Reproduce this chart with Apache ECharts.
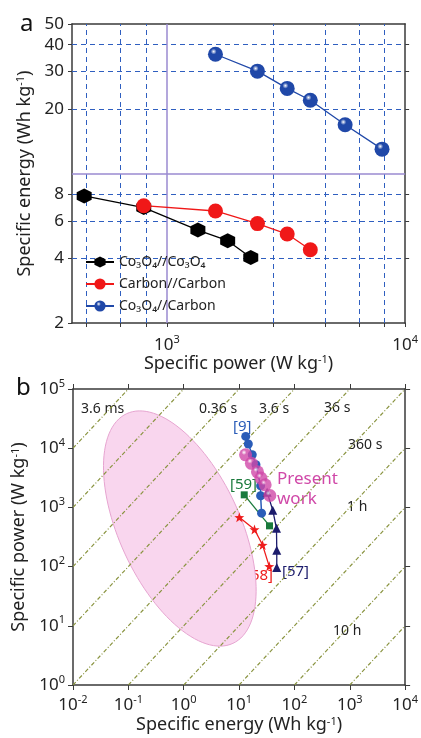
<!DOCTYPE html>
<html>
<head>
<meta charset="utf-8">
<script src="https://cdn.jsdelivr.net/npm/echarts@6/dist/echarts.min.js"></script>
<style>
html, body { margin: 0; padding: 0; background: #fff; }
#main { width: 421px; height: 738px; }
</style>
</head>
<body>
<div id="main"></div>
<script>
// ---- panel a : specific energy vs specific power ----
var cocoPower = [450, 800, 1350, 1800, 2250];
var cocoEnergy = [7.85, 6.93, 5.44, 4.85, 4.05];
var ccPower = [800, 1600, 2400, 3200, 4000];
var ccEnergy = [7.07, 6.68, 5.83, 5.21, 4.40];
var cocPower = [1600, 2400, 3200, 4000, 5600, 8000];
var cocEnergy = [36.1, 30.1, 25.0, 22.0, 16.9, 13.0];

var powerTicks = [460, 640, 820, 1000, 2800, 4600, 6400, 8200, 10000];
var powerLabels = [1000, 10000];
var powerGrid = [460, 640, 820, 2800, 4600, 6400, 8200];
var energyTicks = [2, 4, 6, 8, 20, 30, 40, 50];
var energyGrid = [4, 6, 8, 20, 30, 40];

// ---- panel b : Ragone plot ----
var ref9Energy = [13.2, 14.7, 17.3, 20.2, 24.5, 24.5, 25.5];
var ref9Power = [15800, 11750, 7740, 5250, 2320, 1570, 800];
var workEnergy = [13.1, 16.7, 21.5, 24.8, 29.6, 36.0];
var workPower = [7740, 5560, 3990, 3130, 2410, 1590];
var ref59Energy = [12.4, 35.5];
var ref59Power = [1630, 488];
var ref58Energy = [10.1, 19.0, 26.6, 35.1];
var ref58Power = [680, 424, 231, 101];
var ref57Energy = [32.1, 40.6, 47.4, 48.0, 48.0];
var ref57Power = [1800, 899, 443, 188, 97];
// discharge time lines, hours (E / P)
var dischargeHours = [1e-6, 1e-5, 1e-4, 1e-3, 1e-2, 1e-1, 1, 10, 100, 1000];
// supercapacitor region: centre (Wh/kg, W/kg) and half axes in decades
var capCenter = [0.85, 440];
var capAxisA = [0.96, -1.94];
var capAxisB = [-0.99, -0.43];

var FONT = 'Noto Sans';
var eMin = 0.01, eMax = 10000, pMin = 1, pMax = 100000;

function pairs(xs, ys) {
    return xs.map(function (x, i) { return [x, ys[i]]; });
}
function powLabel(v) {
    return '{n|10}{s|' + Math.round(Math.log10(v)) + '}';
}
function timeLine(t) {
    var e0 = Math.max(eMin, pMin * t), e1 = Math.min(eMax, pMax * t);
    return [[e0, e0 / t], [e1, e1 / t]];
}
function sphere(c) {
    return {
        type: 'radial', x: 0.38, y: 0.32, r: 0.7,
        colorStops: [{ offset: 0, color: '#ffffff' }, { offset: 0.28, color: c }, { offset: 1, color: c }]
    };
}

var supRich = {
    n: { fontSize: 17, lineHeight: 22, fontFamily: FONT, color: '#222' },
    s: { fontSize: 11, lineHeight: 11, verticalAlign: 'top', fontFamily: FONT, color: '#222' }
};
var nameRich = {
    s: { fontSize: 11, lineHeight: 11, verticalAlign: 'top', fontFamily: FONT, color: '#222' }
};
var axisLine = { lineStyle: { color: '#3a3a3a', width: 1.5 } };

var hexagon = 'path://M0,-10 L8.66,-5 L8.66,5 L0,10 L-8.66,5 L-8.66,-5 Z';
var star = 'path://M0,-10 L2.35,-3.24 L9.51,-3.09 L3.8,1.24 L5.88,8.09 L0,4 L-5.88,8.09 L-3.8,1.24 L-9.51,-3.09 L-2.35,-3.24 Z';

var gridLines = [];
powerGrid.forEach(function (v) { gridLines.push({ xAxis: v }); });
energyGrid.forEach(function (v) { gridLines.push({ yAxis: v }); });

var timeSeries = dischargeHours.map(function (t) {
    return {
        type: 'line', xAxisIndex: 2, yAxisIndex: 2, data: timeLine(t),
        symbol: 'none', silent: true, z: 2,
        lineStyle: { color: '#8a9440', width: 1.2, type: [4, 2, 1, 2] }
    };
});

var chart = echarts.init(document.getElementById('main'));

var option = {
    animation: false,
    textStyle: { fontFamily: FONT },
    grid: [
        { left: 72, top: 24, width: 335, height: 299 },
        { left: 73, top: 389, width: 334, height: 296 }
    ],
    legend: {
        data: ['Co₃O₄//Co₃O₄', 'Carbon//Carbon', 'Co₃O₄//Carbon'],
        orient: 'vertical', left: 80, top: 250,
        itemWidth: 28, itemHeight: 14, itemGap: 8,
        textStyle: { fontSize: 14, color: '#222', fontFamily: FONT }
    },
    xAxis: [
        {
            type: 'log', gridIndex: 0, min: 400, max: 10000, position: 'bottom',
            axisLine: axisLine, splitLine: { show: false },
            axisTick: { customValues: powerTicks, length: 4, lineStyle: { color: '#3a3a3a' } },
            axisLabel: { customValues: powerLabels, formatter: powLabel, rich: supRich, margin: 11 },
            name: 'Specific power (W kg{s|-1})', nameLocation: 'middle', nameGap: 29,
            nameTextStyle: { fontSize: 18, color: '#222', rich: nameRich }
        },
        {
            type: 'log', gridIndex: 0, min: 400, max: 10000, position: 'top',
            axisLine: axisLine, axisTick: { show: false }, axisLabel: { show: false }, splitLine: { show: false }
        },
        {
            type: 'log', gridIndex: 1, min: eMin, max: eMax, position: 'bottom',
            axisLine: axisLine, splitLine: { show: false },
            axisTick: { length: 5, lineStyle: { color: '#3a3a3a' } },
            axisLabel: { formatter: powLabel, rich: supRich, margin: 9 },
            name: 'Specific energy (Wh kg{s|-1})', nameLocation: 'middle', nameGap: 31,
            nameTextStyle: { fontSize: 18, color: '#222', rich: nameRich }
        },
        {
            type: 'log', gridIndex: 1, min: eMin, max: eMax, position: 'top',
            axisLine: axisLine, splitLine: { show: false },
            axisTick: { length: 5, lineStyle: { color: '#3a3a3a' } }, axisLabel: { show: false }
        }
    ],
    yAxis: [
        {
            type: 'log', gridIndex: 0, min: 2, max: 50, position: 'left',
            axisLine: axisLine, splitLine: { show: false },
            axisTick: { customValues: energyTicks, length: 4, lineStyle: { color: '#3a3a3a' } },
            axisLabel: { customValues: energyTicks, fontSize: 17, color: '#222', margin: 8 },
            name: 'Specific energy (Wh kg{s|-1})', nameLocation: 'middle', nameGap: 30,
            nameTextStyle: { fontSize: 18, color: '#222', rich: nameRich }
        },
        {
            type: 'log', gridIndex: 0, min: 2, max: 50, position: 'right',
            axisLine: axisLine, splitLine: { show: false }, axisLabel: { show: false },
            axisTick: { customValues: energyGrid, length: 4, lineStyle: { color: '#3a3a3a' } }
        },
        {
            type: 'log', gridIndex: 1, min: pMin, max: pMax, position: 'left',
            axisLine: axisLine, splitLine: { show: false },
            axisTick: { length: 5, lineStyle: { color: '#3a3a3a' } },
            axisLabel: { formatter: powLabel, rich: supRich, margin: 8 },
            name: 'Specific power (W kg{s|-1})', nameLocation: 'middle', nameGap: 42,
            nameTextStyle: { fontSize: 18, color: '#222', rich: nameRich }
        },
        {
            type: 'log', gridIndex: 1, min: pMin, max: pMax, position: 'right',
            axisLine: axisLine, splitLine: { show: false }, axisLabel: { show: false },
            axisTick: { length: 5, lineStyle: { color: '#3a3a3a' } }
        }
    ],
    series: [
        // gridlines and the purple guide lines of panel a
        {
            type: 'line', xAxisIndex: 0, yAxisIndex: 0, data: [], z: 1,
            markLine: {
                silent: true, symbol: ['none', 'none'], label: { show: false }, z: 1,
                lineStyle: { color: '#2f5fc0', width: 1, type: [5, 4] },
                data: gridLines
            }
        },
        {
            type: 'line', xAxisIndex: 0, yAxisIndex: 0, data: [], z: 1,
            markLine: {
                silent: true, symbol: ['none', 'none'], label: { show: false }, z: 1,
                lineStyle: { color: '#9a8ad0', width: 1.5, type: 'solid' },
                data: [{ xAxis: 1000 }, { yAxis: 10 }]
            }
        },
        {
            name: 'Co₃O₄//Co₃O₄', type: 'line', xAxisIndex: 0, yAxisIndex: 0, z: 10,
            data: pairs(cocoPower, cocoEnergy),
            symbol: hexagon, symbolSize: 15,
            itemStyle: { color: '#000' }, lineStyle: { color: '#000', width: 1.3 }
        },
        {
            name: 'Carbon//Carbon', type: 'line', xAxisIndex: 0, yAxisIndex: 0, z: 10,
            data: pairs(ccPower, ccEnergy),
            symbol: 'circle', symbolSize: 15,
            itemStyle: { color: '#f01818' }, lineStyle: { color: '#f01818', width: 1.3 }
        },
        {
            name: 'Co₃O₄//Carbon', type: 'line', xAxisIndex: 0, yAxisIndex: 0, z: 10,
            data: pairs(cocPower, cocEnergy),
            symbol: 'circle', symbolSize: 15,
            itemStyle: { color: sphere('#2048a8') }, lineStyle: { color: '#2048a8', width: 1.3 }
        },
        // panel b
        {
            type: 'custom', xAxisIndex: 2, yAxisIndex: 2, silent: true, z: 1,
            data: [capCenter],
            renderItem: function (params, api) {
                var lc = [Math.log10(capCenter[0]), Math.log10(capCenter[1])];
                var pts = [];
                for (var i = 0; i < 120; i++) {
                    var t = i / 120 * 2 * Math.PI;
                    var le = lc[0] + Math.cos(t) * capAxisA[0] + Math.sin(t) * capAxisB[0];
                    var lp = lc[1] + Math.cos(t) * capAxisA[1] + Math.sin(t) * capAxisB[1];
                    pts.push(api.coord([Math.pow(10, le), Math.pow(10, lp)]));
                }
                return {
                    type: 'polygon', shape: { points: pts },
                    style: { fill: '#f9d6ee', stroke: '#e6a4d0', lineWidth: 1 }
                };
            }
        }
    ].concat(timeSeries).concat([
        {
            name: '[9]', type: 'line', xAxisIndex: 2, yAxisIndex: 2, z: 5,
            data: pairs(ref9Energy, ref9Power), symbol: 'circle', symbolSize: 9,
            itemStyle: { color: '#2a5cb8' }, lineStyle: { color: '#2a5cb8', width: 1.5 }
        },
        {
            name: '[59]', type: 'line', xAxisIndex: 2, yAxisIndex: 2, z: 5,
            data: pairs(ref59Energy, ref59Power), symbol: 'rect', symbolSize: 7,
            itemStyle: { color: '#1a7a3c' }, lineStyle: { color: '#1a7a3c', width: 1.3 }
        },
        {
            name: '[58]', type: 'line', xAxisIndex: 2, yAxisIndex: 2, z: 5,
            data: pairs(ref58Energy, ref58Power), symbol: star, symbolSize: 10,
            itemStyle: { color: '#ee1c1c' }, lineStyle: { color: '#ee1c1c', width: 1.3 }
        },
        {
            name: '[57]', type: 'line', xAxisIndex: 2, yAxisIndex: 2, z: 5,
            data: pairs(ref57Energy, ref57Power), symbol: 'triangle', symbolSize: 9,
            itemStyle: { color: '#1c1c6c' }, lineStyle: { color: '#1c1c6c', width: 1.3 }
        },
        {
            name: 'Present work', type: 'scatter', xAxisIndex: 2, yAxisIndex: 2, z: 6,
            data: pairs(workEnergy, workPower), symbol: 'circle', symbolSize: 13,
            itemStyle: { color: sphere('#d048a8') }
        }
    ]),
    graphic: [
        { type: 'text', x: 20, y: 24, style: { text: 'a', fontSize: 24, fontFamily: FONT, fill: '#111', verticalAlign: 'middle' } },
        { type: 'text', x: 16, y: 388, style: { text: 'b', fontSize: 24, fontFamily: FONT, fill: '#111', verticalAlign: 'middle' } },
        { type: 'text', x: 81, y: 409, style: { text: '3.6 ms', fontSize: 14, fontFamily: FONT, fill: '#222', verticalAlign: 'middle' } },
        { type: 'text', x: 199, y: 409, style: { text: '0.36 s', fontSize: 14, fontFamily: FONT, fill: '#222', verticalAlign: 'middle' } },
        { type: 'text', x: 259, y: 409, style: { text: '3.6 s', fontSize: 14, fontFamily: FONT, fill: '#222', verticalAlign: 'middle' } },
        { type: 'text', x: 324, y: 408, style: { text: '36 s', fontSize: 14, fontFamily: FONT, fill: '#222', verticalAlign: 'middle' } },
        { type: 'text', x: 348, y: 445, style: { text: '360 s', fontSize: 14, fontFamily: FONT, fill: '#222', verticalAlign: 'middle' } },
        { type: 'text', x: 347, y: 507, style: { text: '1 h', fontSize: 14, fontFamily: FONT, fill: '#222', verticalAlign: 'middle' } },
        { type: 'text', x: 333, y: 631, style: { text: '10 h', fontSize: 14, fontFamily: FONT, fill: '#222', verticalAlign: 'middle' } },
        { type: 'text', x: 233, y: 427, style: { text: '[9]', fontSize: 15, fontFamily: FONT, fill: '#2a5cb8', verticalAlign: 'middle' } },
        { type: 'text', x: 230, y: 485, style: { text: '[59]', fontSize: 15, fontFamily: FONT, fill: '#1a7a3c', verticalAlign: 'middle' } },
        { type: 'text', x: 246, y: 576, style: { text: '[58]', fontSize: 15, fontFamily: FONT, fill: '#ee1c1c', verticalAlign: 'middle' } },
        { type: 'text', x: 282, y: 572, style: { text: '[57]', fontSize: 15, fontFamily: FONT, fill: '#1c1c6c', verticalAlign: 'middle' } },
        { type: 'text', x: 277, y: 479, style: { text: 'Present', fontSize: 17, fontFamily: FONT, fill: '#d048a8', verticalAlign: 'middle' } },
        { type: 'text', x: 277, y: 499, style: { text: 'work', fontSize: 17, fontFamily: FONT, fill: '#d048a8', verticalAlign: 'middle' } },
        { type: 'text', x: 122, y: 526, style: { text: 'Supercapacitor', fontSize: 17, fontFamily: FONT, fill: '#111', verticalAlign: 'middle' } }
    ]
};

chart.setOption(option);
</script>
</body>
</html>
